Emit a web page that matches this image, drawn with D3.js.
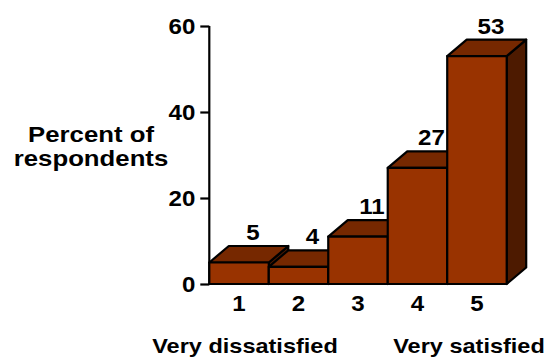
<!DOCTYPE html>
<html>
<head>
<meta charset="utf-8">
<script src="https://cdn.jsdelivr.net/npm/d3@7"></script>
<style>
  html, body { margin: 0; padding: 0; background: #fff; }
  svg { display: block; }
  text { font-family: "Liberation Sans", Arial, Helvetica, sans-serif; font-weight: bold; fill: #000; }
</style>
</head>
<body>
<svg id="chart" width="552" height="358"></svg>
<script>
// Satisfaction ratings (1 = very dissatisfied ... 5 = very satisfied)
const categories = ["1", "2", "3", "4", "5"];
const percents = [5, 4, 11, 27, 53];
const yTicks = [0, 20, 40, 60];
const yTitleLines = ["Percent of", "respondents"];
const endLabels = ["Very dissatisfied", "Very satisfied"];

const plotLeft = 209.3, plotRight = 506.7, plotTop = 26, plotBottom = 284;
const depthX = 19.5, depthY = 16.5;   // oblique 3-D offset
const stretch = 1.12;                 // wide lettering

const colFront = "#993300", colTop = "#762800", colSide = "#4d1a00";

const svg = d3.select("#chart");

const x = d3.scaleBand().domain(categories).range([plotLeft, plotRight]).padding(0);
const y = d3.scaleLinear().domain([0, 60]).range([plotBottom, plotTop]);

// helper: horizontally stretched text
function label(g, tx, ty, str, size, anchor) {
  return g.append("text")
    .attr("transform", `translate(${tx},${ty}) scale(${stretch},1)`)
    .attr("text-anchor", anchor || "middle")
    .style("font-size", size + "px")
    .text(str);
}

// y axis
const yAxis = d3.axisLeft(y).tickValues(yTicks).tickSize(9).tickPadding(5).tickFormat(d3.format("d"));
const gy = svg.append("g").attr("transform", `translate(${plotLeft},0)`).call(yAxis);
gy.select(".domain").attr("stroke", "#000").attr("stroke-width", 2.2).attr("d", `M0,${plotTop}V${plotBottom}`);
gy.selectAll(".tick line").attr("stroke", "#000").attr("stroke-width", 2.2);
gy.selectAll(".tick text").remove();
yTicks.forEach(t => label(gy, -14, y(t) + 7.5, String(t), 21.5, "end"));

// bars, painted left to right so later bars overlap earlier side faces
const bars = svg.append("g");
categories.forEach((c, i) => {
  const x0 = x(c), x1 = x(c) + x.bandwidth();
  const yt = y(percents[i]), yb = y(0);
  const g = bars.append("g")
    .attr("stroke", "#000").attr("stroke-width", 2.2).attr("stroke-linejoin", "round");
  // side face
  g.append("path").attr("fill", colSide)
    .attr("d", `M${x1},${yt}L${x1 + depthX},${yt - depthY}L${x1 + depthX},${yb - depthY}L${x1},${yb}Z`);
  // top face
  g.append("path").attr("fill", colTop)
    .attr("d", `M${x0},${yt}L${x0 + depthX},${yt - depthY}L${x1 + depthX},${yt - depthY}L${x1},${yt}Z`);
  // front face
  g.append("rect").attr("fill", colFront)
    .attr("x", x0).attr("y", yt).attr("width", x1 - x0).attr("height", yb - yt);
});

// value labels above each bar
const vals = svg.append("g");
categories.forEach((c, i) => {
  const cx = x(c) + x.bandwidth() / 2 + 14;
  const cy = y(percents[i]) - depthY - 6;
  label(vals, cx, cy, String(percents[i]), 21.5);
});

// category labels
const cats = svg.append("g");
categories.forEach(c => label(cats, x(c) + x.bandwidth() / 2, 311, c, 21.5));

// scale end descriptions
label(svg, 245, 353, endLabels[0], 21);
label(svg, 469, 353, endLabels[1], 21);

// y axis title
label(svg, 91, 142, yTitleLines[0], 23);
label(svg, 91, 166, yTitleLines[1], 23);
</script>
</body>
</html>
